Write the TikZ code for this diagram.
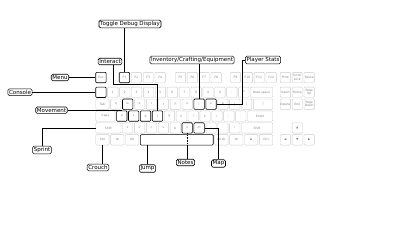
\documentclass[tikz,border=0pt]{standalone}
\usepackage{fontspec}
\setmainfont{DejaVu Sans}
\usetikzlibrary{calc}
\definecolor{keyline}{gray}{0.8}
\definecolor{keytext}{gray}{0.5}
\newcommand{\kw}{11.9}
\tikzset{
  key/.style={draw=keyline, line width=0.4pt, rounded corners=1pt,
    minimum height=10.4pt, minimum width=10.4pt, inner sep=0pt,
    align=center, text=keytext, font=\fontsize{3}{3.3}\selectfont},
  kspan/.style={minimum width={#1*\kw-1.5}},
  mapped/.style={draw=black, line width=0.6pt},
  action/.style={draw, line width=0.6pt, rounded corners=1.5pt, fill=white,
    inner sep=1.2pt, font=\fontsize{5.5}{6}\selectfont}
}

\begin{document}
\begin{tikzpicture}[x=1pt,y=-1pt,line width=0.6pt]
  \fill[white] (0,0) rectangle (400,225);
  \useasboundingbox (0,0) rectangle (400,225);

  % function row
  \node[key,mapped] (kesc) at ({95+0.5*\kw},77.5) {Esc};
  \foreach \n/\s [count=\i from 0] in {1/mapped,2/,3/,4/}
    \node[key,\s] (kf\n) at ({118.5+(\i+0.5)*\kw},77.5) {F\n};
  \foreach \n [count=\i from 0] in {5,6,7,8}
    \node[key] (kf\n) at ({174.5+(\i+0.5)*\kw},77.5) {F\n};
  \foreach \n [count=\i from 0] in {9,10,11,12}
    \node[key] (kf\n) at ({229.5+(\i+0.5)*\kw},77.5) {F\n};
  \node[key] (kprint) at ({95+16*\kw},77.5) {Print};
  \node[key] (kscroll) at ({95+17*\kw},77.5) {Scroll\\Lock};
  \node[key] (kpause) at ({95+18*\kw},77.5) {Pause};

  % number row
  \node[key,mapped] (kgrave) at ({95+0.5*\kw},92.25) {};
  \foreach \c [count=\i] in {1,2,3,4,5,6,7,8,9,0}
    \node[key] (kd\c) at ({95+(\i+0.5)*\kw},92.25) {\c};
  \node[key] (kminus) at ({95+11.5*\kw},92.25) {-};
  \node[key] (kequal) at ({95+12.5*\kw},92.25) {=};
  \node[key,kspan=2] (kback) at ({95+14*\kw},92.25) {Back space};
  \node[key] (kins) at ({95+16*\kw},92.25) {Insert};
  \node[key] (khome) at ({95+17*\kw},92.25) {Home};
  \node[key] (kpgup) at ({95+18*\kw},92.25) {Page\\Up};

  % tab row
  \node[key,kspan=1.25] (ktab) at ({95+0.625*\kw},104.15) {Tab};
  \foreach \c/\s [count=\i from 0] in {q/,w/mapped,e/,r/,t/,y/,u/,i/mapped,o/mapped,p/}
    \node[key,\s] (k\c) at ({95+(1.75+\i)*\kw},104.15) {\c};
  \node[key] (klbr) at ({95+11.75*\kw},104.15) {[};
  \node[key] (krbr) at ({95+12.75*\kw},104.15) {]};
  \node[key,kspan=1.75] (kbslash) at ({95+14.125*\kw},104.15) {|};
  \node[key] (kdel) at ({95+16*\kw},104.15) {Delete};
  \node[key] (kend) at ({95+17*\kw},104.15) {End};
  \node[key] (kpgdn) at ({95+18*\kw},104.15) {Page\\Down};

  % caps row
  \node[key,kspan=1.75] (kcaps) at ({95+0.875*\kw},116.05) {Caps};
  \foreach \c/\s [count=\i from 0] in {a/mapped,s/mapped,d/mapped,f/mapped,g/,h/,j/,k/,l/}
    \node[key,\s] (k\c) at ({95+(2.25+\i)*\kw},116.05) {\c};
  \node[key] (ksemi) at ({95+11.25*\kw},116.05) {;};
  \node[key] (kquote) at ({95+12.25*\kw},116.05) {'};
  \node[key,kspan=2.25] (kenter) at ({95+13.875*\kw},116.05) {Enter};

  % shift row
  \node[key,kspan=2.25] (klshift) at ({95+1.125*\kw},127.95) {Shift};
  \foreach \c/\s [count=\i from 0] in {z/,x/,c/,v/,b/,n/mapped,m/mapped}
    \node[key,\s] (k\c) at ({95+(2.75+\i)*\kw},127.95) {\c};
  \node[key] (kcomma) at ({95+9.75*\kw},127.95) {,};
  \node[key] (kperiod) at ({95+10.75*\kw},127.95) {.};
  \node[key] (kslash) at ({95+11.75*\kw},127.95) {/};
  \node[key,kspan=2.75] (krshift) at ({95+13.625*\kw},127.95) {Shift};
  \node[key] (kup) at ({95+17*\kw},127.95) {▲};

  % bottom row
  \node[key,kspan=1.25] (klctrl) at ({95+0.625*\kw},139.85) {Ctrl};
  \node[key,kspan=1.25] (klwin) at ({95+1.875*\kw},139.85) {⊞};
  \node[key,kspan=1.25] (klalt) at ({95+3.125*\kw},139.85) {Alt};
  \node[key,mapped,kspan=6.25] (kspace) at ({95+6.875*\kw},139.85) {};
  \node[key,kspan=1.25] (kaltgr) at ({95+10.625*\kw},139.85) {Alt Gr};
  \node[key,kspan=1.25] (krwin) at ({95+11.875*\kw},139.85) {⊞};
  \node[key,kspan=1.25] (kmenu) at ({95+13.125*\kw},139.85) {▪};
  \node[key,kspan=1.25] (krctrl) at ({95+14.375*\kw},139.85) {Ctrl};
  \node[key] (kleft) at ({95+16*\kw},139.85) {◀};
  \node[key] (kdown) at ({95+17*\kw},139.85) {▼};
  \node[key] (kright) at ({95+18*\kw},139.85) {▶};

  % actions
  \node[action] (debug) at (130,24) {Toggle Debug Display};
  \node[action] (interact) at (110,61.5) {Interact};
  \node[action] (inventory) at (192,60) {Inventory/Crafting/Equipment};
  \node[action] (stats) at (263,60) {Player Stats};
  \node[action] (menu) at (60,77.5) {Menu};
  \node[action] (console) at (20,92.25) {Console};
  \node[action] (movement) at (51.5,110.2) {Movement};
  \node[action] (sprint) at (42,150) {Sprint};
  \node[action] (crouch) at (98,167.5) {Crouch};
  \node[action] (jump) at (147.5,168.5) {Jump};
  \node[action] (notes) at (185.5,162.5) {Notes};
  \node[action] (map) at (218.5,163.5) {Map};

  \draw (debug.south -| kf1) -- (kf1.north);
  \draw ([xshift=3pt]interact.south) |- ([yshift=26pt]kf.north) -- (kf.north);
  \draw (inventory.south -| ki) -- (ki.north);
  \draw (stats.west) -- ++(-3,0) |- (ko.east);
  \draw (menu.east) -- (kesc.west);
  \draw (console.east) -- (kgrave.west);
  \draw (movement.east) -- (movement.east -| kw.south west);
  \draw (sprint.north) |- (klshift.west);
  \draw (klctrl.south) -- (klctrl.south |- crouch.north);
  \draw (jump.north) -- (jump.north |- kspace.south);
  \draw[densely dotted] (kn.south) -- (kn.south |- kspace.south);
  \draw (kn.south |- kspace.south) -- (kn.south |- notes.north);
  \draw (km.east) -| (map.north);
\end{tikzpicture}
\end{document}
